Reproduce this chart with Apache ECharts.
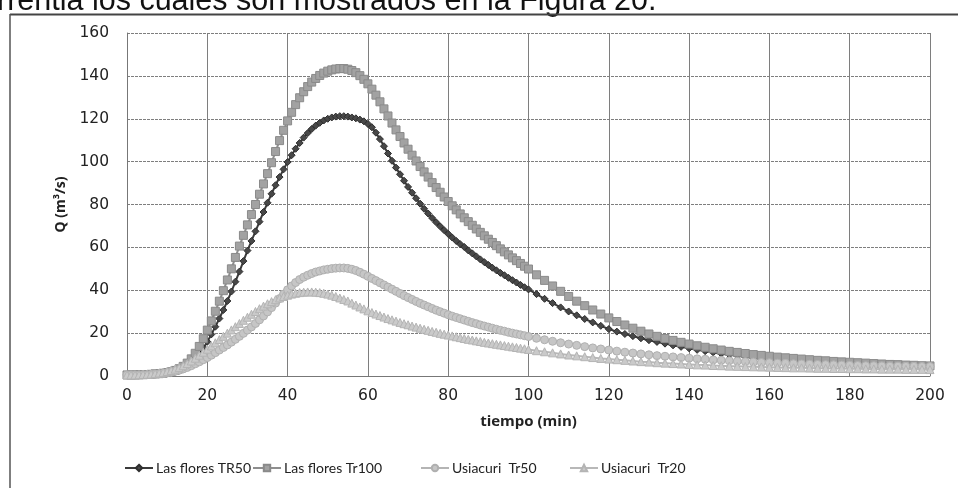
<!DOCTYPE html>
<html>
<head>
<meta charset="utf-8">
<script src="https://cdn.jsdelivr.net/npm/echarts@6/dist/echarts.min.js"></script>
<style>html,body{margin:0;padding:0;background:#fff;}#c{width:958px;height:488px;}</style>
</head>
<body>
<div id="c"></div>
<script>
const tiempo = [
0,1,2,3,4,5,6,7,8,9,
10,11,12,13,14,15,16,17,18,19,
20,21,22,23,24,25,26,27,28,29,
30,31,32,33,34,35,36,37,38,39,
40,41,42,43,44,45,46,47,48,49,
50,51,52,53,54,55,56,57,58,59,
60,61,62,63,64,65,66,67,68,69,
70,71,72,73,74,75,76,77,78,79,
80,81,82,83,84,85,86,87,88,89,
90,91,92,93,94,95,96,97,98,99,
100,
102,104,106,108,110,112,114,116,118,120,
122,124,126,128,130,132,134,136,138,140,
142,144,146,148,150,152,154,156,158,160,
162,164,166,168,170,172,174,176,178,180,
182,184,186,188,190,192,194,196,198,200];

const floresTR50 = [
0.5,0.5,0.5,0.6,0.6,0.7,0.8,0.9,1.0,1.2,
1.4,1.7,2.1,2.7,3.5,4.6,6.0,8.0,10.4,13.0,
16.0,19.4,23.0,26.8,30.8,35.0,39.4,44.0,48.7,53.6,
58.5,63.0,67.5,72.0,76.5,80.8,85.0,89.0,92.8,96.4,
99.8,103.0,106.0,108.7,111.2,113.3,115.2,116.8,118.1,119.2,
120.0,120.6,121.0,121.2,121.2,121.0,120.6,120.2,119.6,118.8,
117.6,116.0,113.5,110.5,107.2,103.8,100.4,97.2,94.1,91.1,
88.2,85.5,82.9,80.4,78.0,75.8,73.7,71.7,69.8,68.0,
66.3,64.6,63.0,61.5,60.2,58.6,57.2,55.8,54.4,53.1,
51.8,50.5,49.3,48.1,47.0,45.8,44.7,43.6,42.5,41.4,
40.4,
38.2,36.0,34.0,32.0,30.1,28.3,26.6,25.0,23.4,21.9,
20.7,19.6,18.6,17.6,16.7,15.9,15.1,14.3,13.6,12.9,
12.2,11.6,11.0,10.4,9.9,9.4,8.9,8.5,8.1,7.7,
7.4,7.1,6.8,6.5,6.3,6.1,5.9,5.7,5.5,5.3,
5.2,5.0,4.9,4.8,4.7,4.6,4.5,4.4,4.3,4.2];

const floresTr100 = [
0.5,0.5,0.5,0.6,0.6,0.7,0.8,1.0,1.1,1.3,
1.6,2.0,2.6,3.4,4.5,6.0,8.0,10.6,13.8,17.4,
21.4,25.7,30.2,34.9,39.8,44.8,50.0,55.3,60.6,65.6,
70.5,75.3,80.0,84.8,89.6,94.4,99.5,104.7,109.8,114.6,
119.0,123.0,126.6,129.8,132.6,135.0,137.1,138.8,140.2,141.3,
142.2,142.8,143.2,143.4,143.4,143.1,142.5,141.5,140.1,138.4,
136.3,133.8,131.0,127.9,124.6,121.3,118.0,114.8,111.7,108.7,
105.8,103.0,100.3,97.7,95.2,92.8,90.2,87.9,85.7,83.5,
81.4,79.4,77.5,75.6,73.8,72.0,70.3,68.6,67.0,65.4,
63.8,62.3,60.8,59.3,57.9,56.5,55.1,53.8,52.5,51.2,
49.9,
47.2,44.6,42.0,39.5,37.1,34.9,32.8,30.8,28.9,27.1,
25.4,23.8,22.3,20.9,19.6,18.5,17.5,16.6,15.7,14.9,
14.1,13.4,12.7,12.1,11.5,11.0,10.5,10.0,9.6,9.2,
8.8,8.5,8.2,7.9,7.6,7.3,7.1,6.8,6.6,6.4,
6.2,6.0,5.8,5.6,5.4,5.3,5.1,5.0,4.8,4.7];

const usiacuriTr50 = [
0.5,0.5,0.5,0.5,0.6,0.6,0.7,0.8,1.0,1.2,
1.5,1.8,2.2,2.7,3.3,4.0,4.8,5.7,6.6,7.6,
8.6,9.7,10.9,12.1,13.3,14.5,15.8,17.1,18.5,19.9,
21.4,22.9,24.5,26.2,28.0,29.9,31.9,34.0,36.1,38.2,
40.2,42.0,43.6,45.0,46.1,47.0,47.8,48.5,49.0,49.5,
49.8,50.1,50.3,50.4,50.4,50.2,49.8,49.2,48.4,47.5,
46.5,45.5,44.5,43.5,42.5,41.5,40.5,39.5,38.5,37.5,
36.6,35.7,34.8,33.9,33.1,32.3,31.5,30.7,30.0,29.3,
28.6,27.9,27.3,26.7,26.1,25.5,24.9,24.4,23.8,23.3,
22.8,22.3,21.8,21.3,20.9,20.4,20.0,19.6,19.2,18.8,
18.4,
17.6,16.9,16.2,15.5,14.9,14.3,13.7,13.1,12.6,12.1,
11.6,11.1,10.7,10.3,9.9,9.5,9.2,8.9,8.6,8.3,
8.0,7.8,7.5,7.3,7.1,6.9,6.7,6.5,6.3,6.2,
6.0,5.9,5.7,5.6,5.5,5.4,5.3,5.2,5.1,5.0,
4.9,4.8,4.8,4.7,4.6,4.6,4.5,4.5,4.4,4.4];

const usiacuriTr20 = [
0.5,0.5,0.5,0.6,0.7,0.8,0.9,1.1,1.4,1.7,
2.1,2.6,3.2,3.9,4.8,5.8,7.0,8.3,9.7,11.1,
12.5,14.0,15.5,17.0,18.5,20.0,21.5,23.0,24.5,26.0,
27.4,28.8,30.1,31.4,32.6,33.7,34.7,35.6,36.4,37.1,
37.7,38.2,38.6,38.9,39.1,39.2,39.2,39.1,38.9,38.6,
38.2,37.7,37.1,36.4,35.7,35.0,34.0,33.1,32.2,31.3,
30.4,29.6,28.9,28.2,27.5,26.8,26.2,25.6,25.0,24.4,
23.9,23.3,22.8,22.3,21.8,21.3,20.8,20.4,19.9,19.5,
19.1,18.7,18.3,17.9,17.5,17.1,16.8,16.4,16.1,15.7,
15.4,15.1,14.8,14.5,14.2,13.9,13.6,13.3,13.0,12.7,
12.4,
11.8,11.3,10.8,10.3,9.8,9.4,9.0,8.6,8.2,7.9,
7.6,7.3,7.0,6.7,6.5,6.2,6.0,5.8,5.6,5.4,
5.2,5.1,4.9,4.8,4.6,4.5,4.4,4.3,4.2,4.1,
4.0,3.9,3.8,3.8,3.7,3.6,3.6,3.5,3.5,3.4,
3.4,3.3,3.3,3.2,3.2,3.2,3.1,3.1,3.1,3.0];

const seriesNames = ['Las flores TR50', 'Las flores Tr100', 'Usiacuri  Tr50', 'Usiacuri  Tr20'];
const xTicks = { min: 0, max: 200, interval: 20 };
const yTicks = { min: 0, max: 160, interval: 20 };
const headerText = 'rrentia los cuales son mostrados en la Figura 20.';

function pairs(vals) { return tiempo.map((t, i) => [t, vals[i]]); }

const styles = [
  { line: '#3a3a3a', fill: '#484848', border: '#2e2e2e', symbol: 'diamond', size: 7, width: 2 },
  { line: '#8e8e8e', fill: '#a2a2a2', border: '#8a8a8a', symbol: 'rect', size: 8, width: 2 },
  { line: '#b4b4b4', fill: '#c6c6c6', border: '#b0b0b0', symbol: 'circle', size: 8, width: 2 },
  { line: '#b8b8b8', fill: '#cacaca', border: '#b4b4b4', symbol: 'triangle', size: 8, width: 2 }
];
const allData = [floresTR50, floresTr100, usiacuriTr50, usiacuriTr20];
const legendLefts = [119, 247, 415, 564];

const chart = echarts.init(document.getElementById('c'), null, { renderer: 'canvas' });
chart.setOption({
  animation: false,
  backgroundColor: '#ffffff',
  graphic: [
    { type: 'text', left: -3, top: -14, style: { text: headerText, font: '30.5px "Liberation Sans", Arial, sans-serif', fill: '#111' } },
    { type: 'line', shape: { x1: 10, y1: 14.5, x2: 958, y2: 14.5 }, style: { stroke: '#444', lineWidth: 2 } },
    { type: 'line', shape: { x1: 10, y1: 14, x2: 10, y2: 488 }, style: { stroke: '#555', lineWidth: 1.5 } }
  ],
  grid: { left: 127, right: 28, top: 33, bottom: 112 },
  legend: seriesNames.map((n, i) => ({
    left: legendLefts[i], top: 456,
    itemWidth: 28, itemHeight: 8, itemGap: 0,
    textStyle: { fontFamily: 'Lato', fontSize: 14, color: '#222', padding: [0, 0, 0, -2] },
    data: [n]
  })),
  xAxis: {
    type: 'value', min: xTicks.min, max: xTicks.max, interval: xTicks.interval,
    name: 'tiempo (min)', nameLocation: 'middle', nameGap: 38,
    nameTextStyle: { fontFamily: 'Open Sans', fontWeight: 'bold', fontSize: 15, color: '#222' },
    axisLine: { show: true, lineStyle: { color: '#777', width: 1 } },
    axisTick: { show: false },
    axisLabel: { fontFamily: 'DejaVu Sans', fontSize: 15.5, color: '#222', margin: 12 },
    splitLine: { show: true, lineStyle: { color: '#7e7e7e', width: 1 } }
  },
  yAxis: {
    type: 'value', min: yTicks.min, max: yTicks.max, interval: yTicks.interval,
    name: 'Q (m³/s)', nameLocation: 'middle', nameGap: 27, nameRotate: 90,
    nameTextStyle: { fontFamily: 'Open Sans', fontWeight: 'bold', fontSize: 14, color: '#222' },
    axisLine: { show: true, lineStyle: { color: '#777', width: 1 } },
    axisTick: { show: false },
    axisLabel: { fontFamily: 'DejaVu Sans', fontSize: 15.5, color: '#222', margin: 18 },
    splitLine: { show: true, lineStyle: { color: '#7e7e7e', width: 1, type: [3, 1] } }
  },
  series: allData.map((d, i) => ({
    name: seriesNames[i],
    type: 'line',
    data: pairs(d),
    symbol: styles[i].symbol,
    symbolSize: styles[i].size,
    showAllSymbol: true,
    lineStyle: { color: styles[i].line, width: styles[i].width },
    itemStyle: { color: styles[i].fill, borderColor: styles[i].border, borderWidth: 1 },
    z: 2 + i
  }))
});
</script>
</body>
</html>
